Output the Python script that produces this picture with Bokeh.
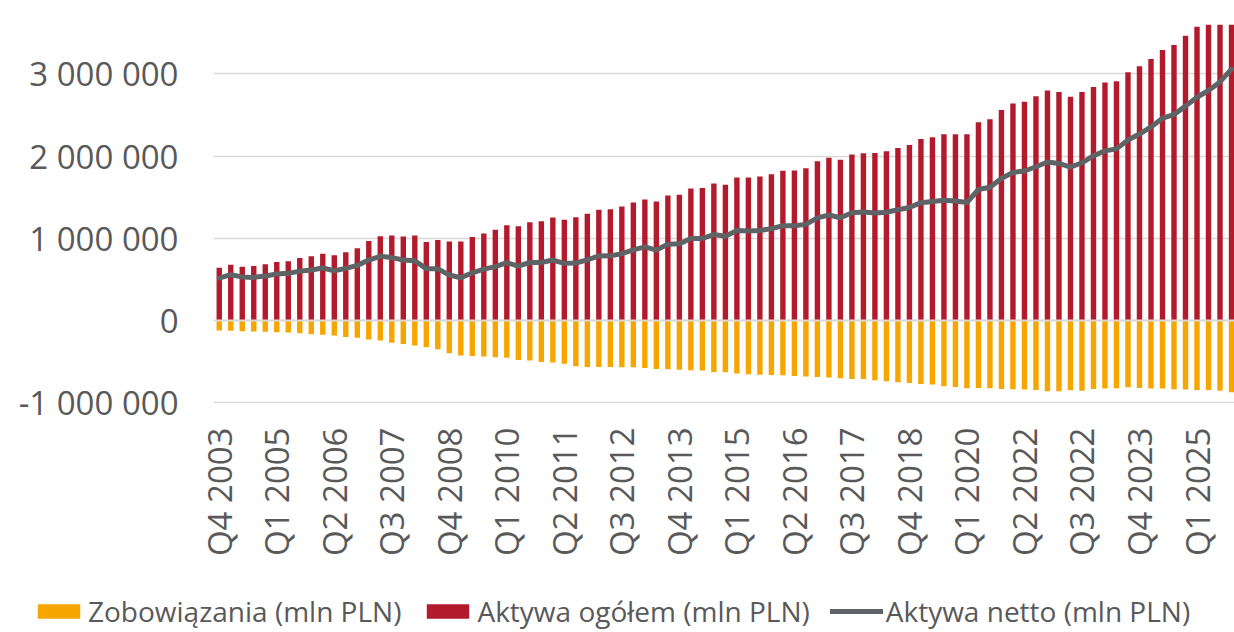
import math
from bokeh.plotting import figure
from bokeh.layouts import column
from bokeh.models import (ColumnDataSource, FixedTicker, Legend, LegendItem, Range1d, Span)
from bokeh.embed import file_html
from bokeh.resources import INLINE

# ---- data (mln PLN) ----
aktywa_ogolem = [
    642000, 679000, 654000, 663000, 683000, 711000, 720000, 760000, 780000, 813000,
    793000, 829000, 878000, 967000, 1024000, 1033000, 1020000, 1033000, 955000, 980000,
    959000, 959000, 1016000, 1057000, 1102000, 1159000, 1146000, 1195000, 1207000, 1252000,
    1224000, 1256000, 1297000, 1346000, 1352000, 1386000, 1435000, 1472000, 1447000, 1520000,
    1528000, 1606000, 1610000, 1667000, 1650000, 1740000, 1740000, 1752000, 1780000, 1821000,
    1825000, 1850000, 1937000, 1980000, 1955000, 2020000, 2033000, 2037000, 2057000, 2098000,
    2134000, 2207000, 2228000, 2264000, 2264000, 2264000, 2410000, 2447000, 2561000, 2638000,
    2661000, 2728000, 2797000, 2780000, 2720000, 2780000, 2841000, 2894000, 2911000, 3020000,
    3093000, 3179000, 3289000, 3350000, 3463000, 3573000, 3643000, 3756000, 3930000,
]
zobowiazania = [
    -122000, -126000, -130000, -134000, -138000, -142000, -146000, -154000, -167000, -175000,
    -183000, -200000, -211000, -232000, -244000, -272000, -285000, -305000, -325000, -350000,
    -398000, -427000, -431000, -439000, -447000, -455000, -480000, -488000, -504000, -512000,
    -528000, -557000, -565000, -565000, -567000, -569000, -569000, -577000, -589000, -593000,
    -598000, -606000, -610000, -626000, -630000, -646000, -654000, -659000, -663000, -667000,
    -675000, -683000, -687000, -695000, -703000, -711000, -711000, -728000, -740000, -752000,
    -760000, -772000, -780000, -800000, -809000, -825000, -821000, -825000, -833000, -837000,
    -840000, -846000, -862000, -862000, -850000, -854000, -833000, -829000, -825000, -813000,
    -821000, -829000, -829000, -837000, -841000, -846000, -846000, -854000, -874000,
]
aktywa_netto = [
    516000, 557000, 528000, 524000, 540000, 565000, 573000, 600000, 614000, 638000,
    605000, 634000, 670000, 735000, 780000, 765000, 735000, 725000, 630000, 628000,
    553000, 520000, 580000, 625000, 655000, 703000, 662000, 705000, 705000, 735000,
    695000, 699000, 736000, 785000, 786000, 812000, 858000, 895000, 856000, 927000,
    932000, 998000, 998000, 1045000, 1024000, 1093000, 1087000, 1095000, 1117000, 1152000,
    1152000, 1169000, 1248000, 1283000, 1250000, 1311000, 1320000, 1307000, 1317000, 1346000,
    1374000, 1433000, 1448000, 1462000, 1453000, 1435000, 1593000, 1620000, 1726000, 1801000,
    1818000, 1870000, 1927000, 1910000, 1866000, 1918000, 2004000, 2063000, 2087000, 2195000,
    2268000, 2354000, 2460000, 2505000, 2607000, 2715000, 2797000, 2902000, 3057000,
]
tick_labels = [
    "Q4 2003", "Q1 2005", "Q2 2006", "Q3 2007", "Q4 2008", "Q1 2010", "Q2 2011",
    "Q3 2012", "Q4 2013", "Q1 2015", "Q2 2016", "Q3 2017", "Q4 2018", "Q1 2020",
    "Q2 2022", "Q3 2022", "Q4 2023", "Q1 2025",
]
series_names = ["Zobowiązania (mln PLN)", "Aktywa ogółem (mln PLN)", "Aktywa netto (mln PLN)"]
label_step = 5
y_ticks = [-1000000, 0, 1000000, 2000000, 3000000]

# ---- styling ----
RED = "#B31B2C"
ORANGE = "#F7A600"
GREY_LINE = "#5E6366"
TEXT = "#595959"
GRID = "#D9D9D9"
FONT = "Open Sans"
W = 1234

n = len(aktywa_ogolem)
idx = list(range(n))
src = ColumnDataSource(dict(x=idx, a=aktywa_ogolem, z=zobowiazania, net=aktywa_netto))

p = figure(width=W, height=590, output_backend="svg", toolbar_location=None,
           x_range=Range1d(-0.5, n - 0.74), y_range=Range1d(-1010000, 3600000),
           min_border_left=213, min_border_right=0, min_border_top=24, min_border_bottom=187)
p.frame_align = False
p.outline_line_color = None
p.background_fill_color = "white"
p.border_fill_color = "white"

p.vbar(x="x", top="z", bottom=0, width=0.47, source=src, fill_color=ORANGE, line_color=None)
p.vbar(x="x", top="a", bottom=0, width=0.47, source=src, fill_color=RED, line_color=None)
p.add_layout(Span(location=0, dimension="width", line_color=GRID, line_width=2))
p.line(x="x", y="net", source=src, line_color=GREY_LINE, line_width=5,
       line_join="round", line_cap="round")

# axes
p.xgrid.visible = False
p.ygrid.grid_line_color = GRID
p.ygrid.grid_line_width = 1.5
p.yaxis.ticker = FixedTicker(ticks=y_ticks)
p.yaxis.major_label_overrides = {v: f"{v:,}".replace(",", " ") for v in y_ticks}
p.xaxis.ticker = FixedTicker(ticks=list(range(0, n, label_step)))
p.xaxis.major_label_overrides = {i * label_step: lab for i, lab in enumerate(tick_labels)}
p.xaxis.major_label_orientation = math.pi / 2

for ax in (p.xaxis, p.yaxis):
    ax.axis_line_color = None
    ax.major_tick_line_color = None
    ax.minor_tick_line_color = None
    ax.major_tick_out = 0
    ax.major_tick_in = 0
    ax.minor_tick_out = 0
    ax.major_label_text_font = FONT
    ax.major_label_text_font_size = "33px"
    ax.major_label_text_color = TEXT
p.yaxis.major_label_standoff = 35
p.xaxis.major_label_standoff = 24

# ---- legend strip (same series, ranges chosen so only the legend shows) ----
lg = figure(width=W, height=42, output_backend="svg", toolbar_location=None,
            x_range=Range1d(-0.5, n - 0.74), y_range=Range1d(8000000, 9000000),
            min_border_left=0, min_border_right=0, min_border_top=0, min_border_bottom=0)
lg.frame_align = False
lg.outline_line_color = None
lg.axis.visible = False
lg.grid.visible = False
k_z = lg.vbar(x="x", top="z", bottom=0, width=0.47, source=src, fill_color=ORANGE, line_color=None)
k_a = lg.vbar(x="x", top="a", bottom=0, width=0.47, source=src, fill_color=RED, line_color=None)
k_n = lg.line(x="x", y="net", source=src, line_color=GREY_LINE, line_width=5, line_cap="round")
legend = Legend(items=[LegendItem(label=series_names[0], renderers=[k_z]),
                       LegendItem(label=series_names[1], renderers=[k_a]),
                       LegendItem(label=series_names[2], renderers=[k_n])],
                orientation="horizontal", location=(32, 2),
                glyph_width=53, glyph_height=18, label_standoff=3, spacing=20,
                padding=0, margin=0, border_line_color=None, background_fill_alpha=0,
                label_text_font=FONT, label_text_font_size="28px", label_text_color=TEXT)
lg.add_layout(legend, "center")

layout = column(p, lg, spacing=0)
open("out.html", "w").write(file_html(layout, INLINE))
